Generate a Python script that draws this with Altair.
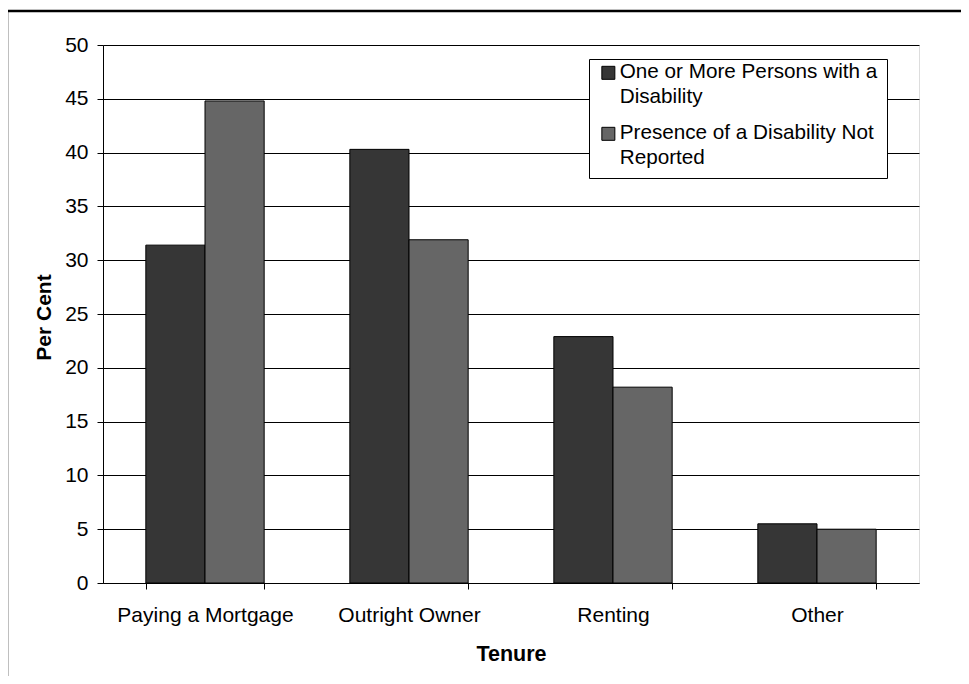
import altair as alt
import pandas as pd

categories = ["Paying a Mortgage", "Outright Owner", "Renting", "Other"]
series = ["One or More Persons with a Disability", "Presence of a Disability Not Reported"]
disability = [31.4, 40.3, 22.9, 5.5]
not_reported = [44.8, 31.9, 18.2, 5.0]
y_ticks = [0, 5, 10, 15, 20, 25, 30, 35, 40, 45, 50]
colors = ["#363636", "#666666"]

rows = []
for c, a, b in zip(categories, disability, not_reported):
    rows.append({"Tenure": c, "Series": series[0], "Value": a})
    rows.append({"Tenure": c, "Series": series[1], "Value": b})
df = pd.DataFrame(rows)

FONT = "Arial, Liberation Sans, sans-serif"
FS = 21

label_expr = (
    "datum.label == '" + series[0] + "' ? ['One or More Persons with a', 'Disability'] : "
    "['Presence of a Disability Not', 'Reported']"
)

bars = alt.Chart(df).mark_bar(stroke="#000000", strokeWidth=1).encode(
    x=alt.X(
        "Tenure:N",
        sort=categories,
        scale=alt.Scale(paddingInner=0.42, paddingOuter=0.21),
        axis=alt.Axis(
            title="Tenure",
            labelAngle=0,
            tickBand="extent",
            tickSize=6,
            tickColor="#000000",
            domainColor="#000000",
            labelPadding=15,
            labelFontSize=FS,
            labelFont=FONT,
            labelColor="#000000",
            titleFont=FONT,
            titleFontSize=21.5,
            titleFontWeight="bold",
            titleColor="#000000",
            titleBaseline="alphabetic",
            titleY=77,
            grid=False,
        ),
    ),
    xOffset=alt.XOffset("Series:N", sort=series),
    y=alt.Y(
        "Value:Q",
        scale=alt.Scale(domain=[0, 50], nice=False),
        axis=alt.Axis(
            title="Per Cent",
            values=y_ticks,
            tickSize=6,
            tickColor="#000000",
            domainColor="#000000",
            gridColor="#000000",
            gridWidth=1,
            labelPadding=9,
            labelFontSize=FS,
            labelFont=FONT,
            labelColor="#000000",
            titleFont=FONT,
            titleFontSize=21,
            titleFontWeight="bold",
            titleColor="#000000",
            titleBaseline="alphabetic",
            titleX=-53,
            titleY=272,
        ),
    ),
    color=alt.Color(
        "Series:N",
        sort=series,
        scale=alt.Scale(domain=series, range=colors),
        legend=alt.Legend(
            title=None,
            orient="none",
            legendX=486,
            legendY=14,
            fillColor="#ffffff",
            strokeColor="#000000",
            padding=9,
            labelFont=FONT,
            labelFontSize=20.7,
            labelColor="#000000",
            labelLimit=500,
            labelBaseline="alphabetic",
            labelOffset=1,
            labelExpr=label_expr,
            symbolType="M-1,-1.85H1V0.15H-1Z",
            symbolSize=169,
            symbolStrokeColor="#000000",
            symbolStrokeWidth=1,
            symbolOpacity=1,
            rowPadding=14,
        ),
    ),
)

frame = alt.Chart(alt.Data(values=[{}])).mark_rect(
    filled=False, stroke="#000000", strokeWidth=2.5, clip=False
).encode(
    x=alt.value(-96), x2=alt.value(900), y=alt.value(-34), y2=alt.value(700)
)

chart = alt.layer(bars, frame).properties(
    width=816,
    height=538,
    autosize=alt.AutoSizeParams(type="none"),
    padding={"left": 95, "top": 37, "right": 42, "bottom": 93},
    background="#ffffff",
).configure_view(
    stroke="#808080", strokeWidth=1
).configure(
    style={"guide-label": alt.MarkConfig(lineHeight=25)}
)

chart.save("out.html", embed_options={"renderer": "svg", "actions": False})
